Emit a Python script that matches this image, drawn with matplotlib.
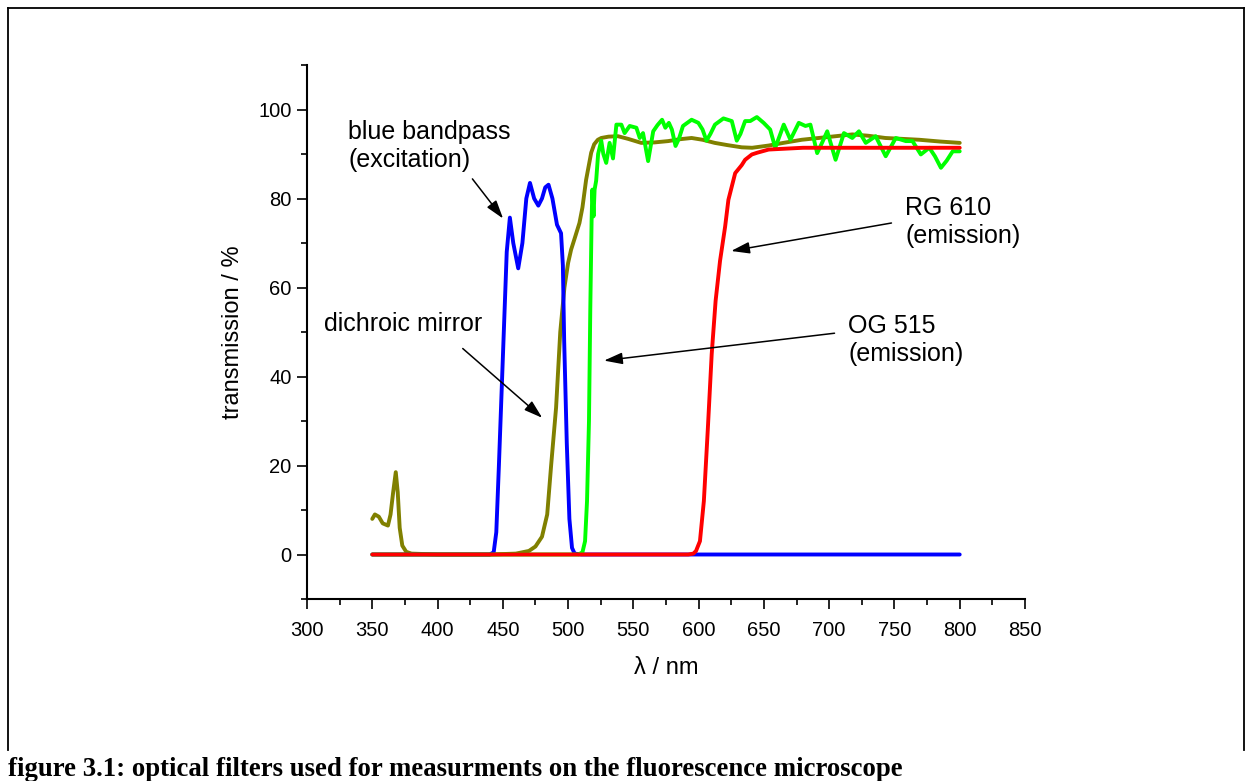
import matplotlib
matplotlib.use('Agg')
import matplotlib.pyplot as plt
from matplotlib.lines import Line2D
from matplotlib.ticker import MultipleLocator

plt.rcParams['font.family'] = ['Liberation Sans', 'DejaVu Sans']

''' transmission curves read off the picture (nm, %) '''
blue_nm = [350, 400, 440, 443, 445, 447, 450.5, 453, 455.4, 458, 461.8, 465, 468, 470.8, 474, 477.2,
           480, 482.5, 485, 488, 491.5, 494.6, 496, 497, 499, 501, 503, 505, 510, 600, 700, 800]
blue_t = [0, 0, 0, 0.5, 5, 20, 48, 68, 75.7, 70, 64.3, 70, 80, 83.5, 80, 78.4,
          80, 82.5, 83.1, 80, 74.1, 72.2, 65, 48, 25, 8, 1.5, 0.2, 0, 0, 0, 0]

dich_nm = [350, 352, 355, 358, 362, 364, 366, 368, 369.5, 371, 373, 376, 380, 400, 440, 460, 470,
           475, 480, 484, 487, 490.8, 494, 497.2, 500, 502.3, 505, 508.7, 511, 513.8, 517.7, 520,
           522.8, 525.4, 531, 538.2, 546, 556, 566, 576.7, 585, 594.6, 603, 612.3, 622, 633,
           641, 653.6, 665, 679, 692, 705, 717.7, 730, 743, 756, 769, 785, 800]
dich_t = [8, 9, 8.5, 7, 6.5, 9, 14, 18.5, 14, 6, 2, 0.6, 0.2, 0, 0, 0.2, 0.8,
          1.8, 4, 9, 20, 33, 50, 60, 65.5, 68.5, 71, 74.5, 78, 84.2, 90.3, 92.2,
          93.2, 93.6, 93.9, 94, 93.4, 92.5, 92.6, 92.9, 93.3, 93.6, 93.2, 92.5, 92, 91.5,
          91.4, 91.9, 92.5, 93.2, 93.6, 94, 94.4, 94.1, 93.6, 93.4, 93.2, 92.8, 92.5]

og_nm = [350, 450, 508, 511, 513, 514.5, 516, 517, 518, 518.6, 519.5, 520.3, 521.5, 523, 525.4,
         527, 529.2, 531.8, 534.4, 537, 540.8, 543.3, 547.2, 552.3, 554.9, 557.4, 561.3, 565.2,
         568.5, 572, 574.5, 577.2, 579.5, 582.3, 585, 588, 594.6, 599.8, 603, 606, 609, 612.5,
         619, 625.4, 629.2, 632, 635.6, 639.5, 644.6, 649.8, 654.8, 658.7, 665.2, 670.3, 676.7,
         681.8, 685.6, 690.8, 694.5, 698.5, 704.9, 711.3, 717.7, 722.8, 728, 735.6, 743.3, 751,
         758.7, 763.8, 770.2, 776.7, 781, 785.6, 790, 794.6, 800]
og_t = [0, 0, 0, 0.5, 3, 12, 30, 55, 75, 82, 76, 82, 84, 90, 93,
        90, 88, 92.5, 89, 96.6, 96.6, 94.7, 96.3, 95.9, 93.6, 94.7, 88.4, 95.1,
        96.5, 97.7, 95.9, 97, 95.5, 91.8, 93.5, 96.3, 97.7, 97, 95.5, 93, 94.5, 96.6,
        98, 97.4, 93, 94.5, 97.4, 97.4, 98.3, 97, 95.5, 91.4, 96.6, 93.2, 97,
        96.3, 96.6, 90.2, 92.5, 95.1, 88.7, 94.7, 93.6, 95.1, 92.5, 94, 89.5, 93.6,
        92.9, 92.9, 89.9, 91.4, 89.5, 86.9, 88.5, 90.6, 90.6]

rg_nm = [350, 450, 550, 592, 596, 598, 601, 604, 607, 610, 613, 616.4, 620.3, 622.8, 628,
         633, 635.6, 640.8, 645, 653.6, 660, 680, 720, 760, 800]
rg_t = [0, 0, 0, 0, 0.2, 0.8, 3, 12, 28, 45, 57, 66, 73.7, 79.7, 85.7,
        87.5, 88.7, 89.9, 90.3, 91, 91.1, 91.4, 91.4, 91.4, 91.4]

fig = plt.figure('figure 3.1', figsize=(12.45, 7.81), dpi=100)

# frame round the figure, open at the bottom where the caption sits
for xs, ys in [([8, 8], [750, 8]), ([8, 1244], [8, 8]), ([1244, 1244], [8, 750])]:
    fig.add_artist(Line2D([x / 1245 for x in xs], [1 - y / 781 for y in ys],
                          color='black', lw=1.3, transform=fig.transFigure))

ax = fig.add_axes([307 / 1245, 1 - 599 / 781, (1025 - 307) / 1245, (599 - 65) / 781])

style = dict(lw=2.8, solid_joinstyle='round', solid_capstyle='round')
ax.plot(dich_nm, dich_t, color='#808000', **style)
ax.plot(blue_nm, blue_t, color='#0000ff', **style)
ax.plot(og_nm, og_t, color='#00ff00', **style)
ax.plot(rg_nm, rg_t, color='#ff0000', **style)

ax.set_xlim(300, 850)
ax.set_ylim(-10, 110)
ax.xaxis.set_major_locator(MultipleLocator(50))
ax.xaxis.set_minor_locator(MultipleLocator(25))
ax.yaxis.set_major_locator(MultipleLocator(20))
ax.yaxis.set_minor_locator(MultipleLocator(10))
ax.spines['top'].set_visible(False)
ax.spines['right'].set_visible(False)
ax.spines['left'].set_linewidth(1.5)
ax.spines['bottom'].set_linewidth(1.5)
ax.tick_params(which='major', direction='out', length=7, width=1.2, labelsize=14.5)
ax.tick_params(axis='x', which='major', pad=9)
ax.tick_params(axis='y', which='major', pad=4)
ax.tick_params(which='minor', direction='out', length=4, width=1.2)

ax.set_xlabel('\u03bb / nm', fontsize=17, labelpad=12)
ax.set_ylabel('transmission / %', fontsize=17, labelpad=10)

''' labels and arrows '''
arr = dict(arrowstyle='-|>,head_length=0.7,head_width=0.22', color='black', lw=1.1,
           mutation_scale=16)
ax.annotate('', xy=(451.5, 75), xytext=(425.4, 84.9), arrowprops=arr)
ax.annotate('', xy=(481.8, 30.3), xytext=(417.7, 46.7), arrowprops=arr)
ax.annotate('', xy=(525.4, 43.5), xytext=(706.2, 49.8), arrowprops=arr)
ax.annotate('', xy=(622.8, 68.1), xytext=(749.8, 74.6), arrowprops=arr)

ax.text(331.5, 91.8, 'blue bandpass\n(excitation)', fontsize=18, va='center', ha='left')
ax.text(313, 51.8, 'dichroic mirror', fontsize=18, va='center', ha='left')
ax.text(714.6, 48.2, 'OG 515\n(emission)', fontsize=18, va='center', ha='left')
ax.text(758.3, 74.8, 'RG 610\n(emission)', fontsize=18, va='center', ha='left')

fig.text(8 / 1245, 1 - 769 / 781,
         'figure 3.1: optical filters used for measurments on the fluorescence microscope',
         fontsize=19.3, fontweight='bold', family=['Liberation Serif', 'DejaVu Serif'],
         va='center', ha='left')

plt.savefig('out.png', dpi=100)
